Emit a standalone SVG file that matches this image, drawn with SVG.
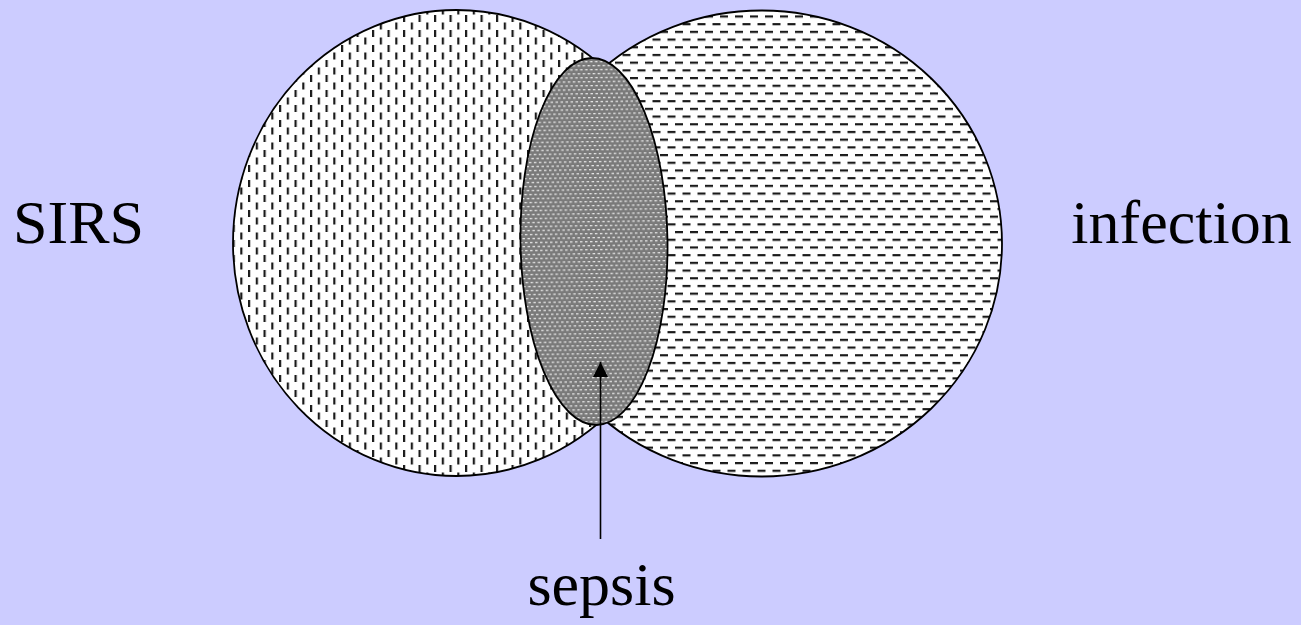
<svg xmlns="http://www.w3.org/2000/svg" width="1301" height="625" viewBox="0 0 1301 625">
<style>
  .lbl { font-family: "Liberation Serif", "Times New Roman", serif; font-size: 62px; fill: #000; text-anchor: middle; }
  .outline { stroke: #000; stroke-width: 1.8; }
</style>
<defs>
  <pattern id="vdash" patternUnits="userSpaceOnUse" width="15.5" height="15" x="0" y="0">
    <rect width="15.5" height="15" fill="#fff"/>
    <rect x="0" y="0" width="2.2" height="7" fill="#1a1a1a"/>
    <rect x="7.75" y="7.5" width="2.2" height="7" fill="#1a1a1a"/>
  </pattern>
  <pattern id="hdash" patternUnits="userSpaceOnUse" width="15" height="15.4" x="0" y="0">
    <rect width="15" height="15.4" fill="#fff"/>
    <rect x="0" y="0" width="8" height="2.2" fill="#1a1a1a"/>
    <rect x="7.5" y="7.7" width="8" height="2.2" fill="#1a1a1a"/>
    <rect x="-7.5" y="7.7" width="8" height="2.2" fill="#1a1a1a"/>
  </pattern>
  <pattern id="dots" patternUnits="userSpaceOnUse" width="5" height="8" x="0" y="0">
    <rect width="5" height="8" fill="#7a7a7a"/>
    <rect x="0" y="1" width="2.5" height="1.3" fill="#e6e6e6"/>
    <rect x="2.5" y="5" width="2.5" height="1.3" fill="#e6e6e6"/>
  </pattern>
  <marker id="arrow" markerUnits="userSpaceOnUse" markerWidth="16" markerHeight="16" refX="15" refY="7.5" orient="auto">
    <path d="M0,0 L15,7.5 L0,15 Z" fill="#000"/>
  </marker>
</defs>
<rect width="1301" height="625" fill="#ccccff"/>
<g id="sirs">
  <ellipse class="outline" cx="456.5" cy="243" rx="223.5" ry="233" fill="url(#vdash)"/>
</g>
<g id="infection">
  <ellipse class="outline" cx="761.5" cy="243.5" rx="240.5" ry="233" fill="url(#hdash)"/>
</g>
<g id="sepsis">
  <ellipse class="outline" cx="594" cy="241.5" rx="73.5" ry="183.5" fill="url(#dots)" transform="rotate(-0.8 594 241.5)"/>
</g>
<g id="connectors">
  <line x1="600.5" y1="539" x2="600.5" y2="362" stroke="#000" stroke-width="1.6" marker-end="url(#arrow)"/>
</g>
<g id="labels">
  <text class="lbl" x="78.5" y="243">SIRS</text>
  <text class="lbl" x="1181.5" y="243">infection</text>
  <text class="lbl" x="601.5" y="605">sepsis</text>
</g>
</svg>
